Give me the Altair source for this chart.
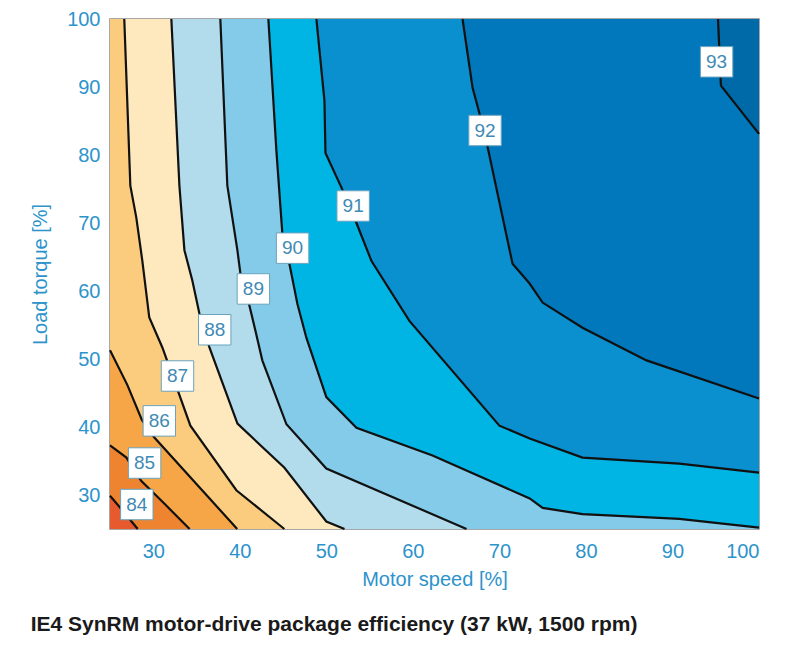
import altair as alt
import pandas as pd

# ---- axis extents / ticks ----
speed_domain = [25, 100]
torque_domain = [25, 100]
speed_ticks = [30, 40, 50, 60, 70, 80, 90, 100]
torque_ticks = [30, 40, 50, 60, 70, 80, 90, 100]

# ---- contour lines (motor speed %, load torque %) ----
c84_speed = [25.0, 26.6, 28.2]
c84_torque = [29.9, 27.5, 25.0]

c85_speed = [25.0, 26.9, 28.6, 31.3, 34.2]
c85_torque = [37.3, 35.5, 32.1, 28.7, 25.0]

c86_speed = [25.0, 27.0, 28.7, 30.1, 39.7]
c86_torque = [51.3, 46.2, 41.0, 38.5, 25.0]

c87_speed = [26.65, 27.35, 28.04, 28.73, 29.54, 31.05, 34.29, 39.6, 45.15]
c87_torque = [100.0, 75.5, 70.8, 64.5, 56.1, 51.7, 40.2, 30.7, 25.0]

c88_speed = [32.09, 33.02, 33.6, 34.52, 35.33, 36.49, 39.73, 45.16, 50.0, 52.1]
c88_torque = [100.0, 75.5, 66.0, 61.5, 56.7, 51.7, 40.5, 34.0, 26.1, 25.0]

c89_speed = [37.75, 38.56, 39.72, 40.18, 41.1, 41.8, 42.6, 45.39, 50.0, 66.2]
c89_torque = [100.0, 75.5, 66.0, 61.5, 57.9, 54.2, 49.8, 40.4, 33.9, 25.0]

c90_speed = [43.3, 44.23, 44.92, 45.73, 46.66, 47.7, 50.0, 53.48, 62.27, 73.5, 75.0, 79.6, 90.8, 100.0]
c90_torque = [100.0, 80.6, 68.4, 64.0, 58.1, 53.1, 44.4, 39.9, 35.8, 29.5, 28.1, 27.2, 26.5, 25.2]

c91_speed = [48.85, 49.78, 49.9, 51.75, 53.48, 55.22, 59.6, 70.0, 73.5, 79.6, 90.8, 100.0]
c91_torque = [100.0, 88.0, 80.3, 75.2, 70.0, 64.4, 55.6, 40.2, 38.3, 35.5, 34.6, 33.3]

c92_speed = [65.74, 66.9, 67.7, 68.63, 71.52, 73.49, 74.99, 79.6, 87.0, 100.0]
c92_torque = [100.0, 89.9, 86.1, 81.2, 64.0, 61.1, 58.3, 54.6, 49.8, 44.2]

c93_speed = [95.26, 95.6, 100.0]
c93_torque = [100.0, 90.2, 83.1]

levels = [84, 85, 86, 87, 88, 89, 90, 91, 92, 93]
contour_speed = [c84_speed, c85_speed, c86_speed, c87_speed, c88_speed,
                 c89_speed, c90_speed, c91_speed, c92_speed, c93_speed]
contour_torque = [c84_torque, c85_torque, c86_torque, c87_torque, c88_torque,
                  c89_torque, c90_torque, c91_torque, c92_torque, c93_torque]

# ---- inline labels ----
label_text = ["84", "85", "86", "87", "88", "89", "90", "91", "92", "93"]
label_speed = [28.1, 29.0, 30.7, 32.8, 37.1, 41.57, 46.1, 53.1, 68.34, 95.1]
label_torque = [28.6, 34.7, 40.9, 47.5, 54.3, 60.3, 66.3, 72.5, 83.6, 93.7]

# ---- band colours (below 84, then above each level) ----
base_color = "#e65a2e"
band_colors = ["#ef8430", "#f6a646", "#fbcb7e", "#fde9bd", "#b2dcec",
               "#84cbea", "#00b5e3", "#0a8fcf", "#0078bb", "#0069a8"]

axis_blue = "#2d93cb"
font = "Liberation Sans"

x_scale = alt.Scale(domain=speed_domain, nice=False, zero=False)
y_scale = alt.Scale(domain=torque_domain, nice=False, zero=False)

x_enc = alt.X("speed:Q", scale=x_scale,
              axis=alt.Axis(values=speed_ticks, title="Motor speed [%]"))
y_enc = alt.Y("torque:Q", scale=y_scale,
              axis=alt.Axis(values=torque_ticks, title="Load torque [%]"))

# base rectangle (< 84)
base_df = pd.DataFrame({"speed": [speed_domain[0]], "speed2": [speed_domain[1]],
                        "torque": [torque_domain[0]], "torque2": [torque_domain[1]]})
base = alt.Chart(base_df).mark_rect(color=base_color).encode(
    x=x_enc, x2="speed2:Q", y=y_enc, y2="torque2:Q")

layers = [base]
line_rows = []
for lev, xs, ys, col in zip(levels, contour_speed, contour_torque, band_colors):
    fx = list(xs)
    fy = list(ys)
    if fy[-1] <= torque_domain[0] + 1e-9 and fx[-1] < speed_domain[1]:
        fx.append(speed_domain[1])
        fy.append(torque_domain[0])
    fdf = pd.DataFrame({"speed": fx, "torque": fy,
                        "top": [torque_domain[1]] * len(fx)})
    layers.append(
        alt.Chart(fdf).mark_area(color=col, orient="vertical").encode(
            x=x_enc, y=y_enc, y2="top:Q")
    )
    for i, (a, b) in enumerate(zip(xs, ys)):
        line_rows.append({"level": lev, "speed": a, "torque": b, "i": i})

lines_df = pd.DataFrame(line_rows)
lines = alt.Chart(lines_df).mark_line(color="#111111", strokeWidth=2.2).encode(
    x=x_enc, y=y_enc, detail="level:N", order="i:Q")
layers.append(lines)

lab_df = pd.DataFrame({"speed": label_speed, "torque": label_torque, "label": label_text})
boxes = alt.Chart(lab_df).mark_point(
    shape="M-1,-0.94H1V0.94H-1Z", size=1050, filled=True, fill="white",
    stroke="#6aa3bd", strokeWidth=1, opacity=1).encode(x=x_enc, y=y_enc)
texts = alt.Chart(lab_df).mark_text(
    font=font, fontSize=19, color="#3f8ab3", baseline="middle", align="center").encode(
    x=x_enc, y=y_enc, text="label:N")
layers += [boxes, texts]

chart = alt.layer(*layers).properties(
    width=649, height=510,
    padding={"left": 22, "top": 1, "right": 5, "bottom": 5},
    title=alt.TitleParams(
        "IE4 SynRM motor-drive package efficiency (37 kW, 1500 rpm)",
        orient="bottom", anchor="start", frame="bounds", font=font,
        fontSize=21, fontWeight="bold", color="#1a1a1a", offset=25),
).configure_view(stroke="#8a8a8a", strokeWidth=1.5).configure_axis(
    grid=False, ticks=False, domain=False,
    labelFont=font, titleFont=font, labelFontSize=20, titleFontSize=20,
    labelColor=axis_blue, titleColor=axis_blue, titleFontWeight="normal",
).configure_axisX(labelPadding=12, titlePadding=8).configure_axisY(
    labelPadding=10, titlePadding=16)

chart.save("out.html", embed_options={"renderer": "svg", "actions": False})
